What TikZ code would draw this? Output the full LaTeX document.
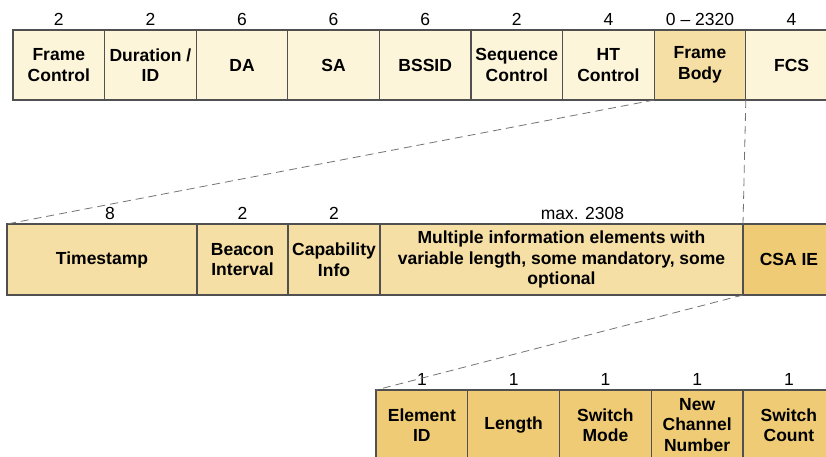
\documentclass[tikz,border=0pt]{standalone}
\usepackage{fontspec}
\setmainfont{Liberation Sans}
\usetikzlibrary{positioning, calc}
\definecolor{paleyellow}{HTML}{FDF5DA}
\definecolor{midyellow}{HTML}{F6DFA4}
\definecolor{deepyellow}{HTML}{EECB74}
\definecolor{fieldedge}{HTML}{505050}

\begin{document}
\begin{tikzpicture}[node distance=0pt]
		% styles
			\tikzstyle{field} = [draw=fieldedge, line width=1.1pt, minimum height=70pt, inner sep=0pt, outer sep=0pt, align=center, font=\fontsize{17.5}{20.5}\selectfont\bfseries]
			\tikzstyle{macfield} = [field, fill=paleyellow, minimum width=91.6pt]
			\tikzstyle{beaconfield} = [field, fill=midyellow, minimum height=71pt]
			\tikzstyle{csafield} = [field, fill=deepyellow, minimum width=91.75pt]
			\tikzstyle{octets} = [anchor=south, inner sep=0pt, font=\fontsize{17.5}{20.5}\selectfont]
			\tikzstyle{zoomline} = [dash pattern=on 8pt off 5pt, draw=black!55, line width=0.8pt]
			
			\useasboundingbox (0,0) rectangle (826pt,-456pt);
			\clip (0,0) rectangle (826pt,-456pt);
			
			% MAC frame
			\node [macfield, anchor=north west] (fc) at (13pt,-30pt) {Frame\\Control};
			\node [macfield, right=of fc] (dur) {Duration /\\ID};
			\node [macfield, right=of dur] (da) {DA};
			\node [macfield, right=of da] (sa) {SA};
			\node [macfield, right=of sa] (bssid) {BSSID};
			\node [macfield, right=of bssid] (seq) {Sequence\\Control};
			\node [macfield, right=of seq] (ht) {HT\\Control};
			\node [macfield, right=of ht, fill=midyellow] (body) {Frame\\Body};
			\node [macfield, right=of body] (fcs) {FCS};
			
			% beacon frame body
			\node [beaconfield, anchor=north west, minimum width=190pt] (ts) at (7pt,-224pt) {Timestamp};
			\node [beaconfield, right=of ts, minimum width=91pt] (bi) {Beacon\\Interval};
			\node [beaconfield, right=of bi, minimum width=92pt] (cap) {Capability\\Info};
			\node [beaconfield, right=of cap, minimum width=363pt] (ies) {Multiple information elements with\\variable length, some mandatory, some\\optional};
			\node [beaconfield, right=of ies, minimum width=92pt, fill=deepyellow] (csa) {CSA IE};
			
			% CSA element
			\node [csafield, anchor=north west] (eid) at (376pt,-390pt) {Element\\ID};
			\node [csafield, right=of eid] (len) {Length};
			\node [csafield, right=of len] (mode) {Switch\\Mode};
			\node [csafield, right=of mode] (chan) {New\\Channel\\Number};
			\node [csafield, right=of chan] (count) {Switch\\Count};
			
			% field sizes
			\foreach \f/\n in {fc/2, dur/2, da/6, sa/6, bssid/6, seq/2, ht/4, body/0 -- 2320, fcs/4, bi/2, cap/2, eid/1, len/1, mode/1, chan/1, count/1}
				\node [octets] (\f-size) at ([yshift=4pt]\f.north) {\n};
			\node [octets] (ts-size) at ([xshift=8pt,yshift=4pt]ts.north) {8};
			\node [octets] (ies-size) at ([xshift=21pt,yshift=4pt]ies.north) {max. 2308};
			
			\draw [zoomline] (body.south west) -- (ts.north west);
			\draw [zoomline] (body.south east) -- (csa.north west);
			\draw [zoomline] (csa.south west) -- (eid.north west);
		\end{tikzpicture}
\end{document}
